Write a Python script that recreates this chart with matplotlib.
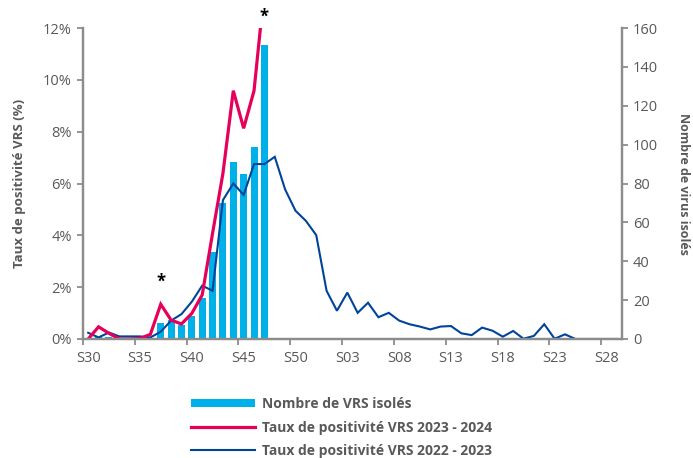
#!/usr/bin/env python3
"""VRS positivity rate and isolates per week, 2023-2024 vs 2022-2023."""
import matplotlib

matplotlib.use("Agg")
import matplotlib.pyplot as plt
import numpy as np
from matplotlib.lines import Line2D
from matplotlib.patches import Patch

# weeks S30 (2023) .. S29 (2024)
weeks = [f"S{w:02d}" for w in list(range(30, 53)) + list(range(1, 30))]

# number of VRS isolated (right axis), season 2023-2024, S30..S47
isolates = [0, 1, 1, 0, 0, 0, 0, 8, 10, 7, 12, 21, 45, 70, 91, 85, 99, 151]

# positivity rate (%) 2023-2024, S30..S47
rate_2324 = [0.0, 0.47, 0.22, 0.0, 0.0, 0.02, 0.18, 1.34, 0.73, 0.58, 0.99, 1.70,
             4.08, 6.39, 9.58, 8.13, 9.58, 13.5]

# positivity rate (%) 2022-2023, S30..S29
rate_2223 = [0.24, 0.06, 0.25, 0.10, 0.10, 0.10, 0.06, 0.28, 0.71, 0.96, 1.44, 2.06,
             1.86, 5.36, 6.00, 5.56, 6.75, 6.75, 7.03, 5.77, 4.95, 4.56, 4.01, 1.86,
             1.09, 1.79, 1.01, 1.40, 0.84, 1.01, 0.71, 0.57, 0.48, 0.37, 0.48, 0.50,
             0.22, 0.15, 0.44, 0.32, 0.09, 0.31, 0.01, 0.12, 0.57, 0.01, 0.18, 0.0,
             0.0, 0.0, 0.0, 0.0]

# weeks flagged with a star, and the height (%) of the star
starred = ["S37", "S47"]
star_y = [2.2, 12.45]

BAR = "#00B0E8"
RED = "#E6005A"
BLUE = "#00449A"
GREY = "#8C8C8C"
TXT = "#595959"


def main() -> None:
    plt.rcParams.update(
        {
            "font.family": ["Open Sans", "DejaVu Sans"],
            "font.size": 9,
        }
    )

    fig = plt.figure(figsize=(6.93, 4.58), dpi=100)
    ax = fig.add_axes([83 / 693, 1 - 339 / 458, (622 - 83) / 693, (339 - 28) / 458])
    ax_r = ax.twinx()
    ax_r.set_zorder(ax.get_zorder() - 1)
    ax.patch.set_visible(False)

    x_all = np.arange(len(weeks))
    ax_r.bar(np.arange(len(isolates)), isolates, width=0.68, color=BAR, linewidth=0)
    ax.plot(np.arange(len(rate_2223)), rate_2223, color=BLUE, lw=1.5, solid_joinstyle="miter")
    ax.plot(np.arange(len(rate_2324)), rate_2324, color=RED, lw=2.3, solid_joinstyle="miter")

    ax.set_xlim(-0.5, len(weeks) - 0.5)
    ax.set_ylim(0, 12)
    ax_r.set_ylim(0, 160)

    ax.set_yticks(np.arange(0, 13, 2))
    ax.set_yticklabels([f"{v}%" for v in range(0, 13, 2)])
    ax_r.set_yticks(np.arange(0, 161, 20))

    # tick marks on category boundaries, labels on category centres
    ax.set_xticks(np.arange(-0.5, len(weeks), 5))
    ax.set_xticklabels([])
    ax.set_xticks(x_all[::5], minor=True)
    ax.set_xticklabels(weeks[::5], minor=True)
    ax.tick_params(axis="x", which="minor", length=0, pad=9, colors=TXT, labelsize=10.5)
    ax.tick_params(axis="x", which="major", length=4, width=1.3, color=GREY)
    ax.tick_params(axis="y", length=4, width=1.3, color=GREY, labelcolor=TXT, labelsize=10.5, pad=4)
    ax_r.tick_params(axis="y", length=4, width=1.3, color=GREY, labelcolor=TXT, labelsize=10.5, pad=4)

    for a in (ax, ax_r):
        a.spines["top"].set_visible(False)
        for s in ("left", "right", "bottom"):
            a.spines[s].set_color(GREY)
            a.spines[s].set_linewidth(1.6)

    ax.set_ylabel("Taux de positivité VRS (%)", color=TXT, fontweight="bold", fontsize=9.5, labelpad=12)
    ax_r.set_ylabel("Nombre de virus isolés", color=TXT, fontweight="bold", fontsize=9,
                    rotation=-90, labelpad=23)

    # significance stars above the 2023-2024 curve
    for wk, y in zip(starred, star_y):
        ax.text(weeks.index(wk), y, "*", ha="center", va="center", fontsize=12,
                fontweight="bold", color="black", clip_on=False)

    handles = [
        Patch(facecolor=BAR, edgecolor="none"),
        Line2D([], [], color=RED, lw=2.3),
        Line2D([], [], color=BLUE, lw=1.5),
    ]
    labels = [
        "Nombre de VRS isolés",
        "Taux de positivité VRS 2023 - 2024",
        "Taux de positivité VRS 2022 - 2023",
    ]
    leg = fig.legend(handles, labels, loc="upper left", bbox_to_anchor=(180 / 693, 1 - 386 / 458),
                     frameon=False, handlelength=4.6, handleheight=0.55, handletextpad=0.5,
                     labelspacing=0.68, fontsize=10, borderpad=0.3)
    for t in leg.get_texts():
        t.set_color(TXT)
        t.set_fontweight("bold")

    fig.savefig("out.png", dpi=100)
    plt.close(fig)


if __name__ == "__main__":
    main()
